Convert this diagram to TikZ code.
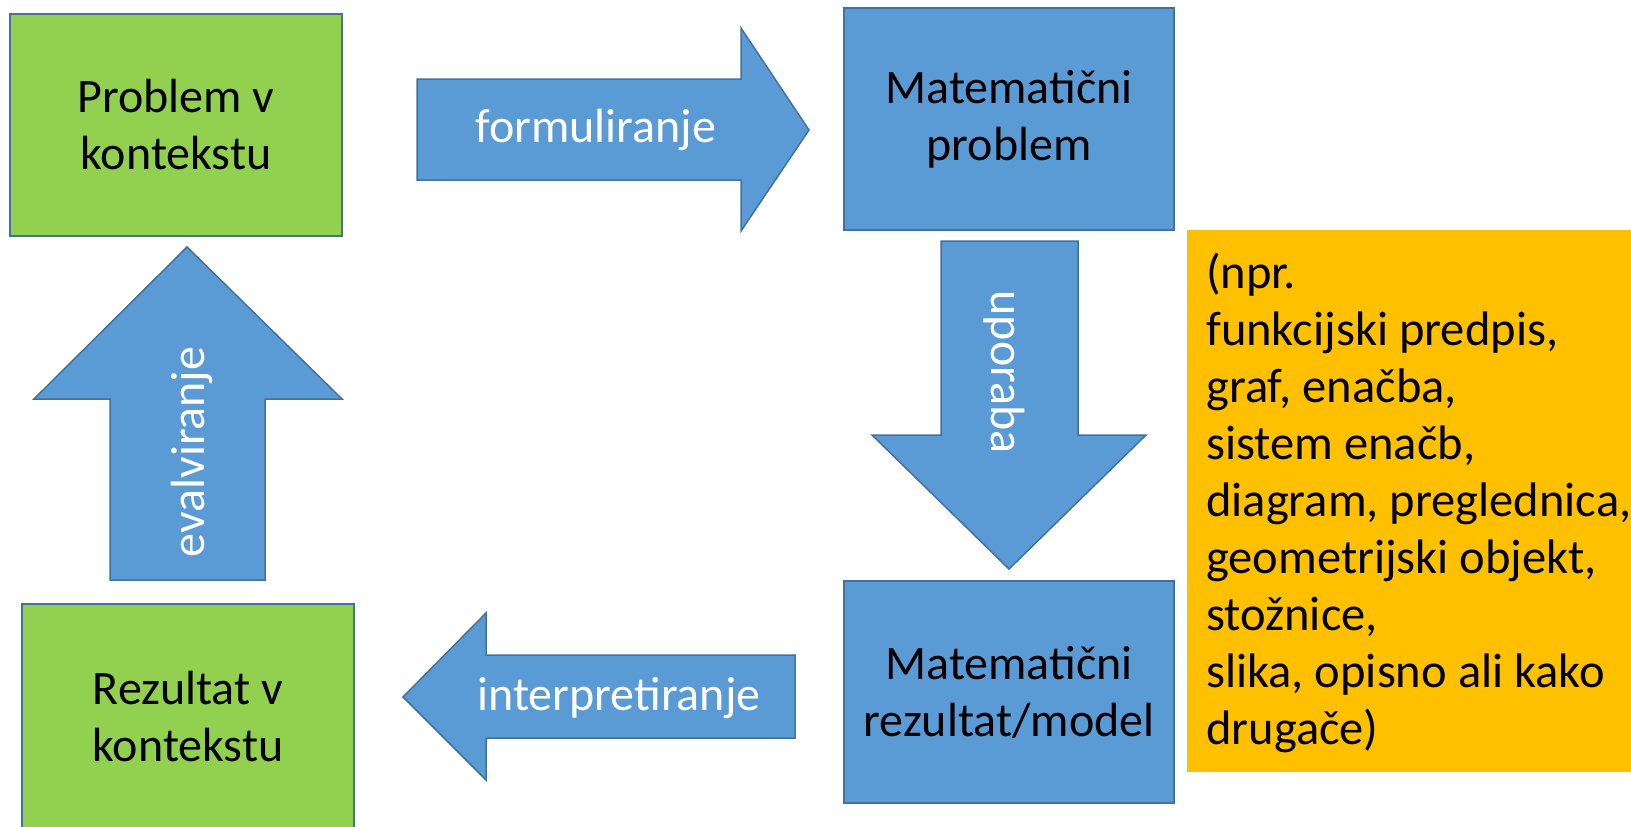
\documentclass[tikz,border=0pt]{standalone}
\usepackage{fontspec}
\setmainfont{Carlito}
\definecolor{grn}{HTML}{92D050}
\definecolor{blu}{HTML}{5B9BD5}
\definecolor{bord}{HTML}{41719C}
\definecolor{org}{HTML}{FFC000}
\begin{document}
\begin{tikzpicture}[x=1pt,y=-1pt,
  box/.style={draw=bord,line width=1.5pt,align=center,inner sep=0pt,
    font=\fontsize{48}{57}\selectfont},
  gbox/.style={box,fill=grn},
  bbox/.style={box,fill=blu},
  arr/.style={draw=bord,line width=1.5pt,fill=blu,line join=miter},
  albl/.style={text=white,inner sep=0pt,font=\fontsize{48}{57}\selectfont}]
\useasboundingbox (0,0) rectangle (1631,827);
\clip (0,0) rectangle (1631,827);
% boxes
\node[gbox,minimum width=332pt,minimum height=222pt] (pk) at (176,125) {Problem v\\kontekstu};
\node[bbox,minimum width=330pt,minimum height=222pt] (mp) at (1009,119) {Matematični\\problem};
\node[bbox,minimum width=330pt,minimum height=222pt] (mr) at (1009,692) {Matematični\\rezultat/model};
\node[gbox,minimum width=332pt,minimum height=226pt] (rk) at (188,717) {Rezultat v\\kontekstu};
\fill[org] (1187,230) rectangle (1640,772);
\node[anchor=west,align=left,inner sep=0pt,font=\fontsize{48.5}{57}\selectfont] (ex) at (1206,503)
 {(npr.\\funkcijski predpis,\\graf, enačba,\\sistem enačb,\\diagram, preglednica,\\geometrijski objekt,\\stožnice,\\slika, opisno ali kako\\drugače)};
% arrows
\draw[arr] (417,79) -- (741,79) -- (741,28) -- (809,130) -- (741,231) -- (741,180) -- (417,180) -- cycle;
\node[albl] (fo) at (596,130) {formuliranje};
\draw[arr] (941,241) -- (1078,241) -- (1078,435) -- (1146,435) -- (1009,569) -- (872,435) -- (941,435) -- cycle;
\node[albl,rotate=-90] (up) at (1004,372) {uporaba};
\draw[arr] (795,655) -- (486,655) -- (486,613) -- (403,697) -- (486,780) -- (486,738) -- (795,738) -- cycle;
\node[albl] (in) at (619,698) {interpretiranje};
\draw[arr] (110,580) -- (110,399) -- (34,399) -- (187,247) -- (342,399) -- (265,399) -- (265,580) -- cycle;
\node[albl,rotate=90] (ev) at (192,452) {evalviranje};
\end{tikzpicture}
\end{document}
